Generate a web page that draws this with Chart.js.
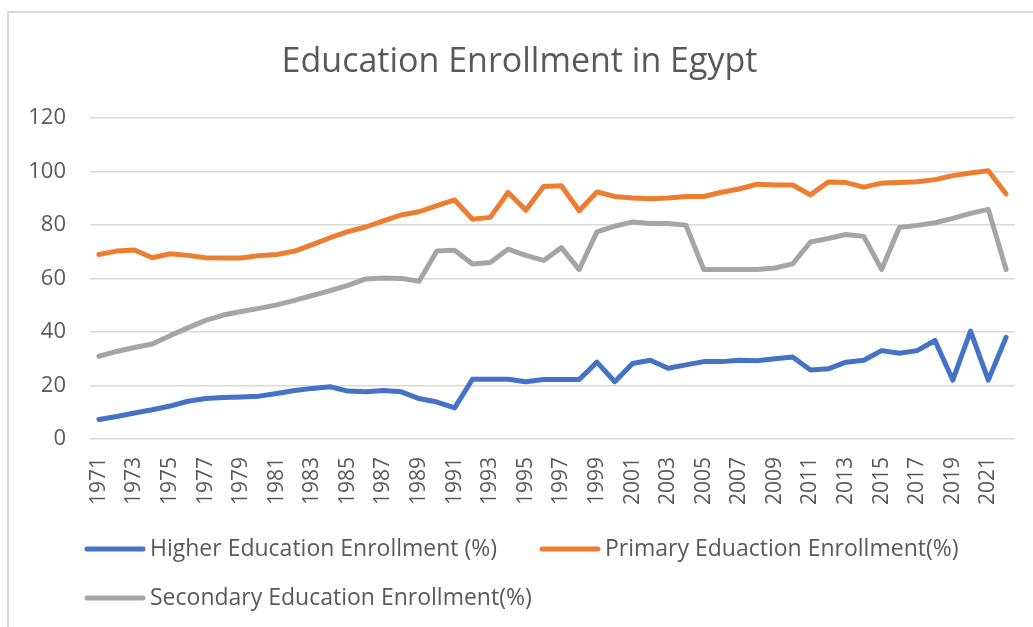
<!DOCTYPE html>
<html>
<head>
<meta charset="utf-8">
<title>Education Enrollment in Egypt</title>
<script src="https://cdn.jsdelivr.net/npm/chart.js@4.4.1/dist/chart.umd.min.js"></script>
<style>
  html, body { margin: 0; padding: 0; background: #fff; overflow: hidden; }
  #wrap { position: relative; width: 1033px; height: 627px; }
  #frame { position: absolute; left: 7px; top: 11px; width: 1100px; height: 700px; border: 2px solid #d9d9d9; }
  #chart { position: absolute; left: 0; top: 0; }
</style>
</head>
<body>
<div id="wrap">
  <div id="frame"></div>
  <canvas id="chart" width="1033" height="627"></canvas>
</div>
<script>
// enrollment ratios, 1971-2022
const years = [
  1971, 1972, 1973, 1974, 1975, 1976, 1977, 1978, 1979, 1980,
  1981, 1982, 1983, 1984, 1985, 1986, 1987, 1988, 1989, 1990,
  1991, 1992, 1993, 1994, 1995, 1996, 1997, 1998, 1999, 2000,
  2001, 2002, 2003, 2004, 2005, 2006, 2007, 2008, 2009, 2010,
  2011, 2012, 2013, 2014, 2015, 2016, 2017, 2018, 2019, 2020,
  2021, 2022
];

const higherEnrollment = [
  7.3, 8.4, 9.7, 10.9, 12.3, 14.1, 15.1, 15.5, 15.7, 16.0,
  17.0, 18.1, 18.9, 19.5, 17.9, 17.6, 18.1, 17.6, 15.1, 13.8,
  11.6, 22.3, 22.3, 22.3, 21.4, 22.2, 22.2, 22.2, 28.7, 21.4,
  28.2, 29.4, 26.4, 27.7, 28.9, 28.9, 29.4, 29.2, 30.0, 30.6,
  25.8, 26.2, 28.7, 29.4, 33.0, 32.0, 33.0, 36.8, 22.0, 40.3,
  22.0, 38.0
];

const primaryEnrollment = [
  68.9, 70.2, 70.6, 67.7, 69.2, 68.6, 67.7, 67.6, 67.6, 68.5,
  68.9, 70.2, 72.6, 75.2, 77.5, 79.2, 81.5, 83.7, 84.9, 87.2,
  89.3, 82.1, 82.8, 92.1, 85.5, 94.3, 94.6, 85.3, 92.3, 90.6,
  90.0, 89.8, 90.0, 90.6, 90.6, 92.2, 93.4, 95.2, 94.9, 94.9,
  91.2, 96.0, 95.8, 94.1, 95.6, 95.8, 96.1, 96.9, 98.4, 99.4,
  100.2, 91.5
];

const secondaryEnrollment = [
  30.9, 32.7, 34.2, 35.5, 38.6, 41.5, 44.3, 46.3, 47.6, 48.8,
  50.1, 51.8, 53.6, 55.4, 57.4, 59.8, 60.1, 60.0, 58.9, 70.2,
  70.5, 65.4, 65.9, 70.9, 68.6, 66.7, 71.5, 63.3, 77.4, 79.5,
  81.1, 80.5, 80.5, 79.9, 63.3, 63.3, 63.3, 63.3, 63.9, 65.4,
  73.6, 74.9, 76.4, 75.7, 63.3, 79.0, 79.8, 80.8, 82.4, 84.3,
  85.8, 63.3
];

const yTicks = [0, 20, 40, 60, 80, 100, 120];

const textColor = '#595959';
Chart.defaults.font.family = "'Open Sans', sans-serif";
Chart.defaults.color = textColor;

// legend drawn as short line samples, two per row like the office style
const lineLegend = {
  id: 'lineLegend',
  afterDraw(chart, args, opts) {
    const ctx = chart.ctx;
    ctx.save();
    ctx.font = opts.font;
    ctx.textBaseline = 'middle';
    ctx.textAlign = 'left';
    chart.data.datasets.forEach((ds, i) => {
      const slot = opts.slots[i];
      ctx.strokeStyle = ds.borderColor;
      ctx.lineWidth = 5;
      ctx.lineCap = 'round';
      ctx.beginPath();
      ctx.moveTo(slot.x, slot.y);
      ctx.lineTo(slot.x + opts.lineLength, slot.y);
      ctx.stroke();
      ctx.fillStyle = opts.color;
      ctx.fillText(ds.label, slot.x + opts.lineLength + opts.gap, slot.y);
    });
    ctx.restore();
  }
};

const lineStyle = {
  borderWidth: 5,
  pointRadius: 0,
  pointHoverRadius: 0,
  tension: 0,
  borderJoinStyle: 'round',
  borderCapStyle: 'round',
  fill: false
};

const ctx = document.getElementById('chart').getContext('2d');
const chart = new Chart(ctx, {
  type: 'line',
  data: {
    labels: years,
    datasets: [
      {
        label: 'Higher Education Enrollment (%)',
        data: higherEnrollment,
        borderColor: '#4472C4',
        backgroundColor: '#4472C4',
        ...lineStyle
      },
      {
        label: 'Primary Eduaction Enrollment(%)',
        data: primaryEnrollment,
        borderColor: '#ED7D31',
        backgroundColor: '#ED7D31',
        ...lineStyle
      },
      {
        label: 'Secondary Education Enrollment(%)',
        data: secondaryEnrollment,
        borderColor: '#A5A5A5',
        backgroundColor: '#A5A5A5',
        ...lineStyle
      }
    ]
  },
  options: {
    responsive: false,
    animation: false,
    devicePixelRatio: 1,
    layout: {
      padding: { left: 24, right: 18, top: 0, bottom: 104 }
    },
    plugins: {
      legend: { display: false },
      tooltip: { enabled: false },
      title: {
        display: true,
        text: 'Education Enrollment in Egypt',
        color: textColor,
        font: { size: 34, weight: 'normal', lineHeight: 1.2 },
        padding: { top: 42, bottom: 35 }
      },
      lineLegend: {
        font: "23px 'Open Sans', sans-serif",
        color: textColor,
        lineLength: 56,
        gap: 7,
        slots: [
          { x: 87, y: 549 },
          { x: 542, y: 549 },
          { x: 87, y: 598 }
        ]
      }
    },
    scales: {
      x: {
        offset: true,
        grid: { display: false, drawTicks: false },
        border: { display: false },
        // rotated year labels fit inside the category slots, no side margins needed
        afterFit: function(axis) {
          axis.paddingLeft = 0;
          axis.paddingRight = 0;
        },
        ticks: {
          autoSkip: false,
          minRotation: 90,
          maxRotation: 90,
          padding: 18,
          color: textColor,
          font: { size: 21 },
          callback: function(value, index) {
            return index % 2 === 0 ? this.getLabelForValue(value) : '';
          }
        }
      },
      y: {
        min: yTicks[0],
        max: yTicks[yTicks.length - 1],
        border: { display: false },
        grid: { color: '#d9d9d9', lineWidth: 1.5, drawTicks: false },
        afterBuildTicks: function(axis) {
          axis.ticks = yTicks.map(v => ({ value: v }));
        },
        afterFit: function(axis) {
          axis.width = 66;
        },
        ticks: {
          padding: 24,
          color: textColor,
          font: { size: 22 }
        }
      }
    }
  },
  plugins: [lineLegend]
});
</script>
</body>
</html>
